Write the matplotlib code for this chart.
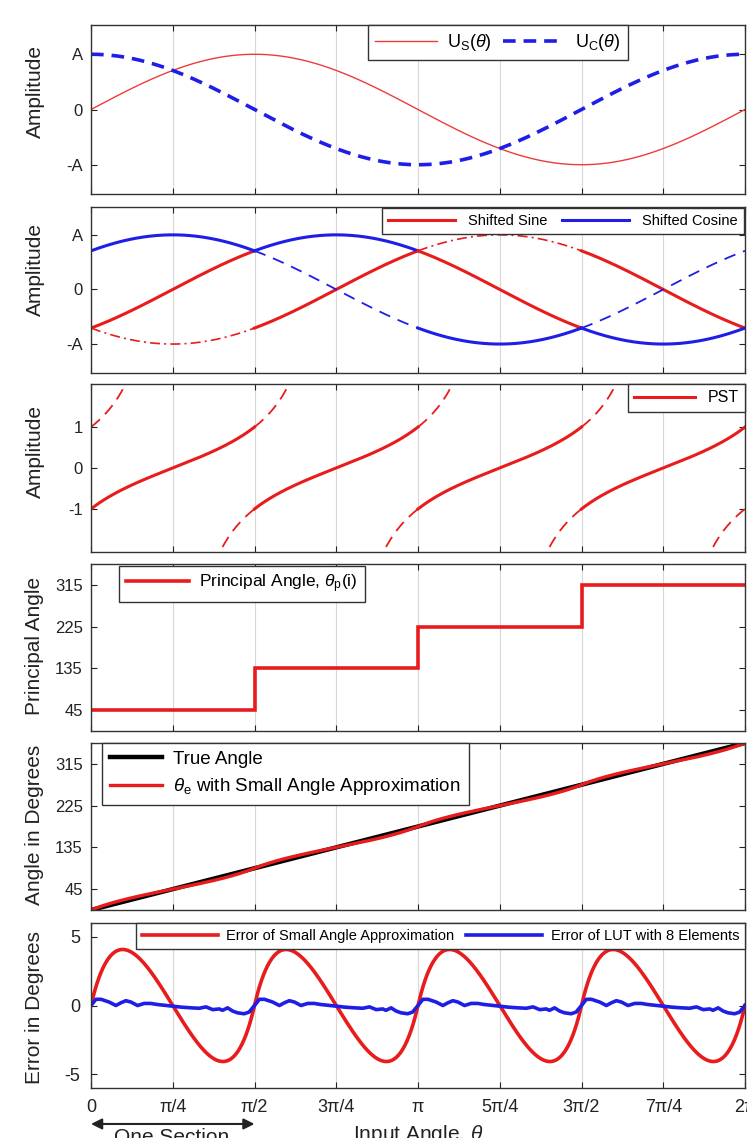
import numpy as np
import matplotlib
matplotlib.use('Agg')
import matplotlib.pyplot as plt

plt.rcParams['font.family'] = ['Liberation Sans', 'DejaVu Sans']
plt.rcParams['mathtext.fontset'] = 'custom'
plt.rcParams['mathtext.rm'] = 'Liberation Sans'
plt.rcParams['mathtext.it'] = 'Liberation Sans:italic'
plt.rcParams['axes.unicode_minus'] = False

# ---- data ----
amp = 1.0
section_edges = [0, np.pi / 2, np.pi, 3 * np.pi / 2, 2 * np.pi]
principal_deg = [45, 135, 225, 315]
# phase of the shifted sine / cosine drawn solid in each section
sine_phase = [np.pi / 4, 3 * np.pi / 4, np.pi / 4, 3 * np.pi / 4]
cos_phase = [np.pi / 4, 3 * np.pi / 4, np.pi / 4, 3 * np.pi / 4]
# faint continuations (section index -> phase)
sine_ghost = {0: 3 * np.pi / 4, 2: 3 * np.pi / 4}
cos_ghost = {1: np.pi / 4, 3: np.pi / 4}
xtick_labels = ['0', 'π/4', 'π/2', '3π/4', 'π', '5π/4', '3π/2', '7π/4', '2π']

# LUT error over one section (deg into section, error deg)
lut_x = [0, 2.7, 5.5, 10, 13.7, 16.5, 19.2, 22, 25.6, 29.3, 32.9, 36.6, 40.2,
         45, 49.7, 55, 59.6, 63.3, 67, 70.6, 72.4, 75.2, 77.9, 80.6, 84.3, 87, 90]
lut_err = [0.0, 0.45, 0.45, 0.25, 0.0, 0.2, 0.35, 0.25, 0.0, 0.15, 0.15, 0.07, 0.02,
           -0.05, -0.12, -0.17, -0.2, -0.1, -0.3, -0.25, -0.35, -0.17, -0.4, -0.53, -0.6, -0.48, 0.0]

RED = '#e81c1c'
BLUE = '#1e1ee6'

W, H = 747, 1138
fig = plt.figure(figsize=(W / 100, H / 100), dpi=100)

panels = [(25, 194), (207, 373), (384, 552), (564, 731), (743, 910), (923, 1088)]
axes = []
for top, bot in panels:
    ax = fig.add_axes([91 / W, 1 - bot / H, 654 / W, (bot - top) / H])
    ax.set_xlim(0, 2 * np.pi)
    ax.set_xticks(np.arange(9) * np.pi / 4)
    ax.set_xticklabels(xtick_labels)
    ax.set_axisbelow(True)
    ax.grid(axis='x', color='#d8d8d8', lw=0.8)
    ax.tick_params(direction='in', top=True, right=True, length=4, width=0.8,
                   labelsize=12, labelbottom=False, pad=6, colors='#222222')
    for s in ax.spines.values():
        s.set_color('#333333')
        s.set_linewidth(1.0)
    axes.append(ax)
ax1, ax2, ax3, ax4, ax5, ax6 = axes
ax6.tick_params(labelbottom=True, pad=8, labelsize=13)

th = np.linspace(0, 2 * np.pi, 2000)

def leg(ax, **kw):
    lg = ax.legend(fancybox=False, framealpha=1, edgecolor='#333333', **kw)
    lg.get_frame().set_linewidth(1.0)
    return lg

# ---- panel 1 ----
ax1.plot(th, amp * np.sin(th), color='#f03a3a', lw=1.0, label=r'U$_{\rm S}$($\theta$)')
ax1.plot(th, amp * np.cos(th), color=BLUE, lw=2.6, ls='--', dashes=(3.5, 2.2),
         label=r'U$_{\rm C}$($\theta$)')
ax1.set_ylim(-1.53, 1.53)
ax1.set_yticks([-amp, 0, amp])
ax1.set_yticklabels(['-A', '0', 'A'])
leg(ax1, loc='upper left', bbox_to_anchor=(0.4235, 1.0), ncol=2, fontsize=13,
    handlelength=3.4, columnspacing=0.6, handletextpad=0.6, borderaxespad=0)

# ---- panel 2 ----
for i in range(4):
    seg = np.linspace(section_edges[i], section_edges[i + 1], 300)
    ax2.plot(seg, amp * np.sin(seg - sine_phase[i]), color=RED, lw=2.2,
             label='Shifted Sine' if i == 0 else None)
    ax2.plot(seg, amp * np.cos(seg - cos_phase[i]), color=BLUE, lw=2.2,
             label='Shifted Cosine' if i == 0 else None)
    if i in sine_ghost:
        ax2.plot(seg, amp * np.sin(seg - sine_ghost[i]), color=RED, lw=1.2,
                 ls='-.', dashes=(6, 2.5, 1.2, 2.5))
    if i in cos_ghost:
        ax2.plot(seg, amp * np.cos(seg - cos_ghost[i]), color=BLUE, lw=1.3,
                 ls='--', dashes=(6.5, 4.5))
ax2.set_ylim(-1.53, 1.51)
ax2.set_yticks([-amp, 0, amp])
ax2.set_yticklabels(['-A', '0', 'A'])
leg(ax2, loc='upper right', bbox_to_anchor=(1, 1), ncol=2, fontsize=10.5,
    handlelength=4.6, columnspacing=1.0, handletextpad=0.9, borderaxespad=0.1)

# ---- panel 3 ----
ylim3 = 2.05
for i in range(4):
    seg = np.linspace(section_edges[i], section_edges[i + 1], 600)
    c = np.deg2rad(principal_deg[i])
    ax3.plot(seg, np.tan(seg - c), color=RED, lw=2.2, label='PST' if i == 0 else None)
    ghost = np.tan(seg - c - np.pi / 2)
    ghost[np.abs(ghost) > ylim3 + 0.3] = np.nan
    ax3.plot(seg, ghost, color=RED, lw=1.3, ls='--', dashes=(6.5, 4))
ax3.set_ylim(-ylim3, ylim3)
ax3.set_yticks([-1, 0, 1])
leg(ax3, loc='upper right', bbox_to_anchor=(1, 1), fontsize=11.5,
    handlelength=3.8, handletextpad=0.8, borderaxespad=0)

# ---- panel 4 ----
ax4.stairs(principal_deg, section_edges, baseline=None, color=RED, lw=2.6,
           label=r'Principal Angle, $\theta_{\rm p}$(i)')
ax4.set_ylim(0, 360)
ax4.set_yticks([45, 135, 225, 315])
leg(ax4, loc='upper left', bbox_to_anchor=(0.043, 0.99), fontsize=12.5,
    handlelength=3.6, handletextpad=0.6, borderaxespad=0)

# ---- panel 5 ----
true_deg = np.rad2deg(th)
sec = np.minimum((th // (np.pi / 2)).astype(int), 3)
p_rad = np.deg2rad(np.array(principal_deg))[sec]
est_deg = np.array(principal_deg)[sec] + 45 * np.tan(th - p_rad)
ax5.plot(th, true_deg, color='black', lw=3.2, label='True Angle')
ax5.plot(th, est_deg, color=RED, lw=2.4, label=r'$\theta_{\rm e}$ with Small Angle Approximation')
ax5.set_ylim(0, 360)
ax5.set_yticks([45, 135, 225, 315])
leg(ax5, loc='upper left', bbox_to_anchor=(0.017, 1.0), fontsize=13.5,
    handlelength=2.8, handletextpad=0.6, borderaxespad=0, labelspacing=0.45)

# ---- panel 6 ----
ax6.plot(th, est_deg - true_deg, color=RED, lw=2.6, label='Error of Small Angle Approximation')
lut_th = np.concatenate([np.deg2rad(np.array(lut_x[:-1]) + 90 * k) for k in range(4)] + [[2 * np.pi]])
lut_val = np.concatenate([lut_err[:-1]] * 4 + [[lut_err[-1]]])
ax6.plot(lut_th, lut_val, color=BLUE, lw=2.6, label='Error of LUT with 8 Elements')
ax6.set_ylim(-6, 6)
ax6.set_yticks([-5, 0, 5])
leg(ax6, loc='upper right', bbox_to_anchor=(1, 1), ncol=2, fontsize=10.5,
    handlelength=5.2, columnspacing=0.8, handletextpad=0.6, borderaxespad=0)

# y labels
ylab = [('Amplitude', 92), ('Amplitude', 270), ('Amplitude', 452),
        ('Principal Angle', 646), ('Angle in Degrees', 825), ('Error in Degrees', 1007)]
for txt, yc in ylab:
    fig.text(35 / W, 1 - yc / H, txt, rotation=90, ha='center', va='center',
             fontsize=15, color='#222222')

# x label and section arrow (figure is cropped at the bottom)
fig.text(418 / W, 1 - 1123 / H, r'Input Angle, $\theta$', ha='center', va='top',
         fontsize=15, color='#222222')
ax6.annotate('', xy=(0, -0.218), xytext=(np.pi / 2, -0.218),
             xycoords=ax6.get_xaxis_transform(),
             arrowprops=dict(arrowstyle='<|-|>', color='#222222', lw=1.5,
                             mutation_scale=16, shrinkA=0, shrinkB=0))
fig.text(172 / W, 1 - 1128 / H, 'One Section', ha='center', va='top',
         fontsize=15, color='#222222')

fig.savefig('out.png', dpi=100)
